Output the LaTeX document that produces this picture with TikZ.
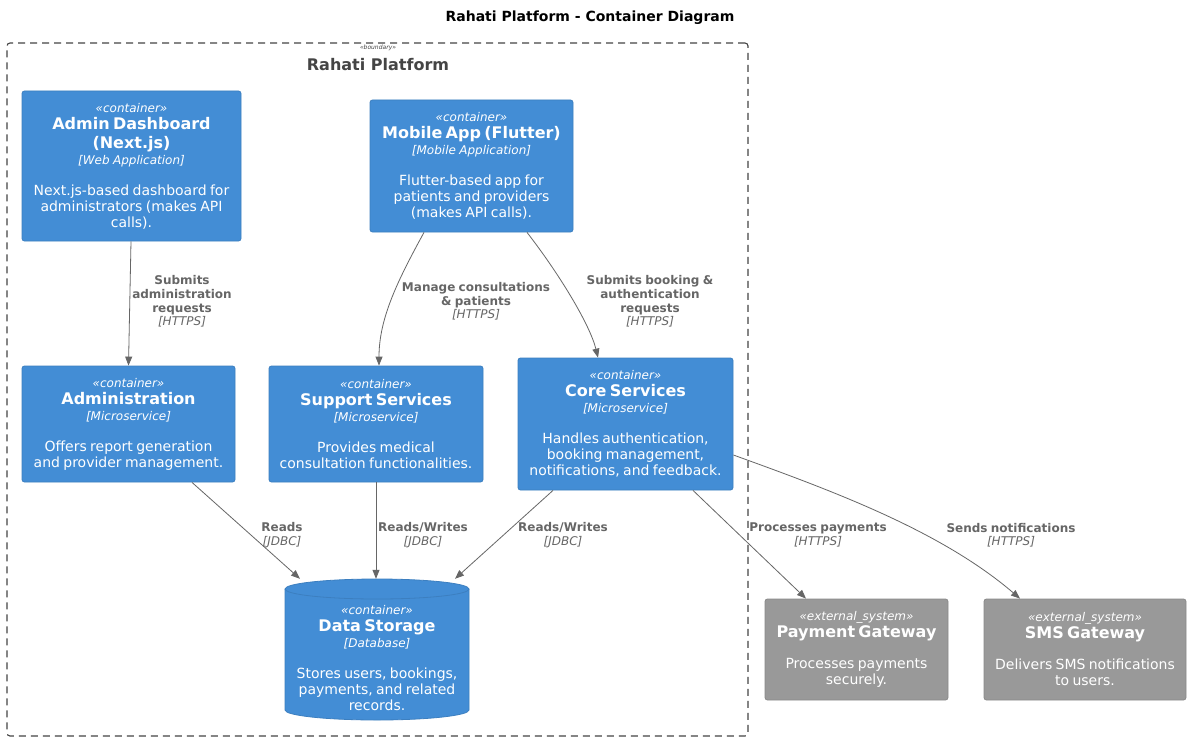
\documentclass[tikz,border=0pt]{standalone}
\usepackage{fontspec}
\setmainfont{DejaVu Sans}
\usetikzlibrary{arrows.meta}
\definecolor{c4blue}{HTML}{438DD5}
\definecolor{c4bluebd}{HTML}{3C7FC0}
\definecolor{c4gray}{HTML}{999999}
\definecolor{c4graybd}{HTML}{8A8A8A}
\definecolor{edgec}{HTML}{666666}
\definecolor{bndc}{HTML}{444444}
\newcommand{\stereo}[1]{{\fontsize{12}{14}\selectfont\itshape «#1»\par}}
\newcommand{\cname}[1]{{\fontsize{16}{19}\selectfont\vspace{-2pt}\bfseries #1\par}}
\newcommand{\ctech}[1]{{\fontsize{12}{16}\selectfont\itshape [#1]\par}}
\newcommand{\cdesc}[1]{{\fontsize{14}{16}\selectfont\vspace{15pt}#1\par}}
\newcommand{\elab}[2]{{\fontsize{12}{14}\selectfont\bfseries #1\par}{\fontsize{12}{13.5}\selectfont\itshape [#2]\par}}
\begin{document}
\begin{tikzpicture}[x=1pt,y=-1pt,
  container/.style={draw=c4bluebd, fill=c4blue, rounded corners=2.5pt, text=white, align=center, inner sep=0pt, line width=0.8pt},
  extsys/.style={draw=c4graybd, fill=c4gray, rounded corners=2.5pt, text=white, align=center, inner sep=0pt, line width=0.8pt},
  dbtext/.style={text=white, align=center, inner sep=0pt},
  rel/.style={draw=edgec, line width=0.8pt, -{Triangle[length=9pt,width=7pt]}},
  lbl/.style={text=edgec, align=center, inner sep=0pt, text width=200pt}]
\useasboundingbox (0,0) rectangle (1190,741);
\fill[white] (0,0) rectangle (1190,741);

% title
\node[font=\fontsize{14}{16}\selectfont\bfseries] (title) at (590,18) {Rahati Platform - Container Diagram};

% boundary
\node[draw=bndc, dash pattern=on 7pt off 5pt, line width=1.1pt, rounded corners=3pt, minimum width=741pt, minimum height=693pt, inner sep=0pt] (bnd) at (377.5,389.5) {};
\node[text=bndc, font=\fontsize{6}{7}\selectfont\itshape] (bndst) at (378,48) {«boundary»};
\node[text=bndc, font=\fontsize{16}{19}\selectfont\bfseries] (bndname) at (378,65) {Rahati Platform};

% containers
\node[container, minimum width=219pt, minimum height=150pt, text width=209pt] (adash) at (131.5,166)
 {\stereo{container}\cname{Admin Dashboard\\(Next.js)}\ctech{Web Application}\cdesc{Next.js-based dashboard for\\administrators (makes API\\calls).}};
\node[container, minimum width=203pt, minimum height=132pt, text width=195pt] (mob) at (471.5,166)
 {\stereo{container}\cname{Mobile App (Flutter)}\ctech{Mobile Application}\cdesc{Flutter-based app for\\patients and providers\\(makes API calls).}};
\node[container, minimum width=213pt, minimum height=116pt, text width=205pt] (admin) at (128.5,424)
 {\stereo{container}\cname{Administration}\ctech{Microservice}\cdesc{Offers report generation\\and provider management.}};
\node[container, minimum width=214pt, minimum height=116pt, text width=206pt] (supp) at (376,424)
 {\stereo{container}\cname{Support Services}\ctech{Microservice}\cdesc{Provides medical\\consultation functionalities.}};
\node[container, minimum width=215pt, minimum height=132pt, text width=207pt] (core) at (625.5,424)
 {\stereo{container}\cname{Core Services}\ctech{Microservice}\cdesc{Handles authentication,\\booking management,\\notifications, and feedback.}};

% database cylinder
\node[inner sep=0pt, minimum width=184pt, minimum height=141pt] (ds) at (377,649.5) {};
\filldraw[fill=c4blue, draw=c4bluebd, line width=0.8pt] (285,589) -- (285,710) arc (180:360:92pt and 10pt) -- (469,589) arc (0:180:92pt and 10pt) -- cycle;
\draw[c4bluebd, line width=0.8pt] (285,589) arc (180:360:92pt and 10pt);
\node[dbtext, text width=176pt] (dstext) at (377,658)
 {\stereo{container}\cname{Data Storage}\ctech{Database}\cdesc{Stores users, bookings,\\payments, and related\\records.}};

% external systems
\node[extsys, minimum width=183pt, minimum height=101pt, text width=175pt] (pay) at (856.5,649.5)
 {\stereo{external\_system}\cname{Payment Gateway}\cdesc{Processes payments\\securely.}};
\node[extsys, minimum width=202pt, minimum height=101pt, text width=194pt] (sms) at (1085,649.5)
 {\stereo{external\_system}\cname{SMS Gateway}\cdesc{Delivers SMS notifications\\to users.}};

% relations
\draw[rel] ([xshift=-0.5pt]adash.south) -- (admin.north);
\draw[rel] ([xshift=-47.5pt]mob.south) .. controls (398,280) and (379,318) .. ([xshift=3pt]supp.north);
\draw[rel] ([xshift=55.5pt]mob.south) .. controls (560,275) and (590,325) .. ([xshift=-27.5pt]core.north);
\draw[rel] ([xshift=63.5pt]admin.south) -- ([xshift=-77pt]ds.north);
\draw[rel] (supp.south) -- ([xshift=-1pt]ds.north);
\draw[rel] ([xshift=-72.5pt]core.south) -- ([xshift=78pt]ds.north);
\draw[rel] ([xshift=67.5pt]core.south) -- ([xshift=-50.5pt]pay.north);
\draw[rel] ([yshift=-31pt]core.east) .. controls (830,490) and (940,530) .. ([xshift=-65pt]sms.north);

% labels
\node[lbl] (l1) at (182,301) {\elab{Submits\\administration\\requests}{HTTPS}};
\node[lbl] (l2) at (476,301) {\elab{Manage consultations\\\& patients}{HTTPS}};
\node[lbl] (l3) at (650,301) {\elab{Submits booking \&\\authentication\\requests}{HTTPS}};
\node[lbl] (l4) at (282,535) {\elab{Reads}{JDBC}};
\node[lbl] (l5) at (423,535) {\elab{Reads/Writes}{JDBC}};
\node[lbl] (l6) at (563,535) {\elab{Reads/Writes}{JDBC}};
\node[lbl] (l7) at (818,535) {\elab{Processes payments}{HTTPS}};
\node[lbl] (l8) at (1011,535) {\elab{Sends notifications}{HTTPS}};
\end{tikzpicture}
\end{document}
